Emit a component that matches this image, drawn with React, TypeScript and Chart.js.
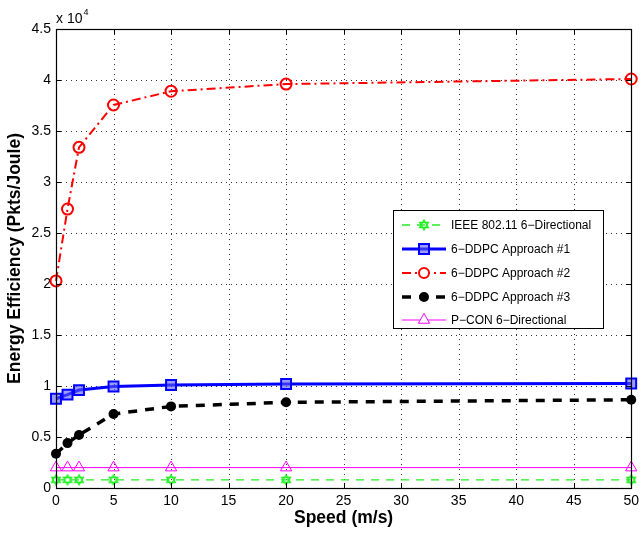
import React, { useEffect, useRef } from "react";
import { Chart, registerables } from "chart.js";
Chart.register(...registerables);

const speeds = [0, 1, 2, 5, 10, 20, 50];
const ieeeValues = [800, 800, 800, 800, 800, 800, 800];
const approach1Values = [8750, 9150, 9600, 9950, 10100, 10200, 10250];
const approach2Values = [20300, 27350, 33400, 37550, 38900, 39600, 40100];
const approach3Values = [3350, 4400, 5200, 7250, 8000, 8400, 8650];
const pconValues = [2000, 2000, 2000, 2000, 2000, 2000, 2000];
const seriesLabels = [
  "IEEE 802.11 6\u2212Directional",
  "6\u2212DDPC Approach #1",
  "6\u2212DDPC Approach #2",
  "6\u2212DDPC Approach #3",
  "P\u2212CON 6\u2212Directional",
];
const xTickValues = [0, 5, 10, 15, 20, 25, 30, 35, 40, 45, 50];
const yTickValues = [0, 5000, 10000, 15000, 20000, 25000, 30000, 35000, 40000, 45000];
const xTitle = "Speed (m/s)";
const yTitle = "Energy Efficiency (Pkts/Joule)";
const yExponent = "4";

const FONT = "'Liberation Sans', Arial, Helvetica, sans-serif";
const GREEN = "#22ee22";
const BLUE = "#0000ff";
const RED = "#ff0000";
const BLACK = "#000000";
const MAGENTA = "#ff00ff";

function makeHexagram(color: string, r: number) {
  const s = Math.ceil(r * 2 + 4);
  const c = document.createElement("canvas");
  c.width = s;
  c.height = s;
  const ctx = c.getContext("2d")!;
  const cx = s / 2, cy = s / 2;
  ctx.strokeStyle = color;
  ctx.lineWidth = 1.3;
  for (const off of [-Math.PI / 2, Math.PI / 2]) {
    ctx.beginPath();
    for (let i = 0; i < 3; i++) {
      const a = off + (i * 2 * Math.PI) / 3;
      const x = cx + r * Math.cos(a), y = cy + r * Math.sin(a);
      if (i === 0) ctx.moveTo(x, y); else ctx.lineTo(x, y);
    }
    ctx.closePath();
    ctx.stroke();
  }
  return c;
}

type Marker = "hex" | "square" | "circle" | "dot" | "triangle";
const legendStyles: { color: string; width: number; dash: number[]; marker: Marker }[] = [
  { color: GREEN, width: 1.3, dash: [8, 7], marker: "hex" },
  { color: BLUE, width: 3, dash: [], marker: "square" },
  { color: RED, width: 2, dash: [9, 4, 2, 4], marker: "circle" },
  { color: BLACK, width: 3.5, dash: [9, 8], marker: "dot" },
  { color: MAGENTA, width: 1, dash: [], marker: "triangle" },
];

function drawMarker(ctx: CanvasRenderingContext2D, m: Marker, x: number, y: number, color: string, hex: HTMLCanvasElement) {
  ctx.save();
  ctx.setLineDash([]);
  ctx.strokeStyle = color;
  ctx.fillStyle = color;
  if (m === "hex") {
    ctx.drawImage(hex, x - hex.width / 2, y - hex.height / 2);
  } else if (m === "square") {
    ctx.lineWidth = 2;
    ctx.fillStyle = "rgba(90,90,255,0.6)";
    ctx.fillRect(x - 5, y - 5, 10, 10);
    ctx.strokeRect(x - 5, y - 5, 10, 10);
  } else if (m === "circle") {
    ctx.lineWidth = 2;
    ctx.beginPath();
    ctx.arc(x, y, 5, 0, Math.PI * 2);
    ctx.fillStyle = "#fff";
    ctx.fill();
    ctx.stroke();
  } else if (m === "dot") {
    ctx.beginPath();
    ctx.arc(x, y, 5, 0, Math.PI * 2);
    ctx.fill();
  } else if (m === "triangle") {
    ctx.lineWidth = 1;
    const r = 6.5;
    ctx.beginPath();
    ctx.moveTo(x, y - r);
    ctx.lineTo(x + r * 0.866, y + r / 2);
    ctx.lineTo(x - r * 0.866, y + r / 2);
    ctx.closePath();
    ctx.fillStyle = "#fff";
    ctx.fill();
    ctx.stroke();
  }
  ctx.restore();
}

export default function App() {
  const ref = useRef<HTMLCanvasElement>(null);
  useEffect(() => {
    const canvas = ref.current!;
    const hex = makeHexagram(GREEN, 5);

    const axesPlugin = {
      id: "matlabAxes",
      beforeDatasetsDraw(chart: any) {
        const { ctx, chartArea: a, scales } = chart;
        ctx.save();
        ctx.strokeStyle = "rgba(0,0,0,0.8)";
        ctx.lineWidth = 1;
        ctx.setLineDash([1, 4]);
        xTickValues.forEach((v, i) => {
          if (i === 0 || i === xTickValues.length - 1) return;
          const x = Math.round(scales.x.getPixelForValue(v)) + 0.5;
          ctx.beginPath();
          ctx.moveTo(x, a.top);
          ctx.lineTo(x, a.bottom);
          ctx.stroke();
        });
        yTickValues.forEach((v, i) => {
          if (i === 0 || i === yTickValues.length - 1) return;
          const y = Math.round(scales.y.getPixelForValue(v)) + 0.5;
          ctx.beginPath();
          ctx.moveTo(a.left, y);
          ctx.lineTo(a.right, y);
          ctx.stroke();
        });
        ctx.restore();
      },
      afterDatasetsDraw(chart: any) {
        const { ctx, chartArea: a, scales } = chart;
        ctx.save();
        ctx.setLineDash([]);
        ctx.strokeStyle = "#000";
        ctx.lineWidth = 1;
        const tl = 5;
        xTickValues.forEach((v) => {
          const x = Math.round(scales.x.getPixelForValue(v)) + 0.5;
          ctx.beginPath();
          ctx.moveTo(x, a.bottom);
          ctx.lineTo(x, a.bottom - tl);
          ctx.moveTo(x, a.top);
          ctx.lineTo(x, a.top + tl);
          ctx.stroke();
        });
        yTickValues.forEach((v) => {
          const y = Math.round(scales.y.getPixelForValue(v)) + 0.5;
          ctx.beginPath();
          ctx.moveTo(a.left, y);
          ctx.lineTo(a.left + tl, y);
          ctx.moveTo(a.right, y);
          ctx.lineTo(a.right - tl, y);
          ctx.stroke();
        });
        ctx.lineWidth = 1.2;
        ctx.strokeRect(Math.round(a.left) + 0.5, Math.round(a.top) + 0.5, Math.round(a.right - a.left), Math.round(a.bottom - a.top));
        ctx.fillStyle = "#000";
        ctx.font = `14px ${FONT}`;
        ctx.textBaseline = "alphabetic";
        ctx.textAlign = "left";
        ctx.fillText("x 10", a.left, a.top - 6);
        const w = ctx.measureText("x 10").width;
        ctx.font = `9px ${FONT}`;
        ctx.fillText(yExponent, a.left + w + 1, a.top - 14);

        const lx = 393, ly = 210, lw = 210, lh = 118;
        ctx.fillStyle = "#fff";
        ctx.fillRect(lx, ly, lw, lh);
        ctx.strokeStyle = "#000";
        ctx.lineWidth = 1;
        ctx.strokeRect(lx + 0.5, ly + 0.5, lw, lh);
        const rowY = [225, 249, 273, 297, 320];
        seriesLabels.forEach((label, i) => {
          const st = legendStyles[i];
          const y = rowY[i];
          ctx.save();
          ctx.strokeStyle = st.color;
          ctx.lineWidth = st.width;
          ctx.setLineDash(st.dash);
          ctx.beginPath();
          ctx.moveTo(402, y);
          ctx.lineTo(446, y);
          ctx.stroke();
          ctx.restore();
          drawMarker(ctx, st.marker, 424, y, st.color, hex);
          ctx.fillStyle = "#000";
          ctx.font = `12px ${FONT}`;
          ctx.textAlign = "left";
          ctx.textBaseline = "middle";
          ctx.fillText(label, 451, y + 0.5);
        });
        ctx.restore();
      },
    };

    const mk = (v: number[]) => speeds.map((s, i) => ({ x: s, y: v[i] }));

    const chart = new Chart(canvas, {
      type: "line",
      data: {
        datasets: [
          {
            label: seriesLabels[0],
            data: mk(ieeeValues),
            borderColor: GREEN,
            borderWidth: 1.3,
            borderDash: [8, 7],
            pointStyle: hex as any,
            pointRadius: 5,
            order: 5,
          },
          {
            label: seriesLabels[1],
            data: mk(approach1Values),
            borderColor: BLUE,
            borderWidth: 3,
            pointStyle: "rect",
            pointRadius: 7,
            pointBorderWidth: 2,
            pointBackgroundColor: "rgba(90,90,255,0.6)",
            pointBorderColor: BLUE,
            order: 4,
          },
          {
            label: seriesLabels[2],
            data: mk(approach2Values),
            borderColor: RED,
            borderWidth: 2,
            borderDash: [9, 4, 2, 4],
            pointStyle: "circle",
            pointRadius: 5.5,
            pointBorderWidth: 2,
            pointBackgroundColor: "rgba(255,255,255,0)",
            pointBorderColor: RED,
            order: 3,
          },
          {
            label: seriesLabels[3],
            data: mk(approach3Values),
            borderColor: BLACK,
            borderWidth: 3.5,
            borderDash: [9, 8],
            pointStyle: "circle",
            pointRadius: 5,
            pointBorderWidth: 0,
            pointBackgroundColor: BLACK,
            pointBorderColor: BLACK,
            order: 2,
          },
          {
            label: seriesLabels[4],
            data: mk(pconValues),
            borderColor: MAGENTA,
            borderWidth: 1,
            pointStyle: "triangle",
            pointRadius: 6.5,
            pointBorderWidth: 1,
            pointBackgroundColor: "rgba(255,255,255,0)",
            pointBorderColor: MAGENTA,
            order: 1,
          },
        ],
      },
      options: {
        animation: false,
        responsive: false,
        devicePixelRatio: 1,
        clip: false as any,
        layout: { padding: { top: 29, right: 5, left: 0, bottom: 0 } },
        elements: { line: { tension: 0, fill: false } },
        plugins: { legend: { display: false }, tooltip: { enabled: false } },
        scales: {
          x: {
            type: "linear",
            min: 0,
            max: 50,
            grid: { display: false, drawTicks: false },
            border: { display: false },
            ticks: {
              stepSize: 5,
              color: "#000",
              font: { family: FONT, size: 14 },
              padding: 5,
              maxRotation: 0,
            },
            title: {
              display: true,
              text: xTitle,
              color: "#000",
              font: { family: FONT, size: 17.5, weight: "bold" },
              padding: { top: 0, bottom: 4 },
            },
            afterFit: (s: any) => {
              s.height = 45;
            },
          },
          y: {
            type: "linear",
            min: 0,
            max: 45000,
            grid: { display: false, drawTicks: false },
            border: { display: false },
            ticks: {
              stepSize: 5000,
              color: "#000",
              font: { family: FONT, size: 14 },
              padding: 5,
              callback: (v: any) => String(Number(v) / 10000),
            },
            title: {
              display: true,
              text: yTitle,
              color: "#000",
              font: { family: FONT, size: 17.5, weight: "bold" },
              padding: { top: 4.5, bottom: 0 },
            },
            afterFit: (s: any) => {
              s.width = 56;
            },
          },
        },
      },
      plugins: [axesPlugin],
    });
    return () => chart.destroy();
  }, []);

  return (
    <div style={{ position: "absolute", left: 0, top: 0, width: 644, height: 533, background: "#fff" }}>
      <canvas ref={ref} width={644} height={533} style={{ display: "block", width: 644, height: 533 }} />
    </div>
  );
}
